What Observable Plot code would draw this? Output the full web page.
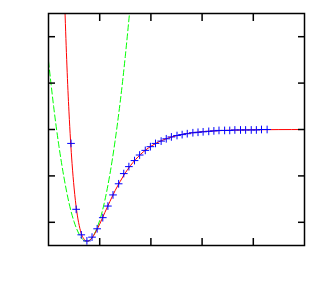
<!DOCTYPE html>
<html>
<head>
<meta charset="utf-8">
<script src="https://cdn.jsdelivr.net/npm/d3@7"></script>
<script src="https://cdn.jsdelivr.net/npm/@observablehq/plot@0.6"></script>
<style>
  html, body { margin: 0; padding: 0; background: #fff; }
</style>
</head>
<body>
<div id="chart"></div>
<script>
// Tick positions (no labels shown in the reference)
const xTicks = [1, 2, 3, 4];
const yTicks = [-2, -1, 0, 1, 2];

// Red solid curve (potential)
const redX = [0.30, 0.32, 0.34, 0.36, 0.38, 0.40, 0.43, 0.46, 0.50, 0.55, 0.60, 0.65, 0.70, 0.756, 0.80, 0.85, 0.90, 1.0, 1.1, 1.2, 1.3, 1.4, 1.5, 1.6, 1.8, 2.0, 2.2, 2.4, 2.6, 2.8, 3.0, 3.3, 3.6, 4.0, 4.5, 5.0];
const redY = [3.36, 2.62, 1.96, 1.37, 0.84, 0.38, -0.23, -0.73, -1.26, -1.75, -2.07, -2.27, -2.37, -2.41, -2.39, -2.34, -2.25, -2.04, -1.79, -1.55, -1.32, -1.12, -0.935, -0.78, -0.534, -0.362, -0.243, -0.163, -0.109, -0.072, -0.048, -0.026, -0.014, -0.006, -0.002, -0.001];

// Green dashed curve (harmonic approximation)
const greenX = [0, 0.1, 0.2, 0.3, 0.4, 0.5, 0.6, 0.7, 0.8, 0.9, 1.0, 1.1, 1.2, 1.3, 1.4, 1.5, 1.6];
const greenY = [1.475, 0.50, -0.33, -1.02, -1.58, -1.99, -2.26, -2.40, -2.39, -2.24, -1.96, -1.53, -0.96, -0.25, 0.59, 1.58, 2.71];

// Blue "+" data points
const ptsX = [0.44, 0.54, 0.64, 0.75, 0.85, 0.95, 1.06, 1.16, 1.26, 1.37, 1.47, 1.57, 1.68, 1.78, 1.89, 1.99, 2.09, 2.20, 2.30, 2.40, 2.51, 2.61, 2.71, 2.82, 2.92, 3.02, 3.13, 3.23, 3.33, 3.44, 3.54, 3.64, 3.75, 3.85, 3.96, 4.06, 4.16, 4.27];
const ptsY = [-0.30, -1.72, -2.27, -2.40, -2.32, -2.14, -1.90, -1.65, -1.41, -1.17, -0.95, -0.80, -0.67, -0.55, -0.45, -0.37, -0.30, -0.25, -0.20, -0.16, -0.13, -0.11, -0.09, -0.07, -0.06, -0.05, -0.04, -0.03, -0.02, -0.02, -0.02, -0.01, -0.01, -0.01, -0.01, -0.01, 0.00, 0.00];

const red = redX.map((x, i) => ({x, y: redY[i]}));
const green = greenX.map((x, i) => ({x, y: greenY[i]}));
const pts = ptsX.map((x, i) => ({x, y: ptsY[i]}));

const axisStyle = {stroke: "black", fill: "none", label: null, tickSize: -7, strokeWidth: 1.5};

const chart = Plot.plot({
  width: 324,
  height: 288,
  marginLeft: 48,
  marginRight: 20,
  marginTop: 13,
  marginBottom: 43,
  x: {domain: [0, 5]},
  y: {domain: [-2.5, 2.5]},
  style: {background: "white"},
  marks: [
    Plot.line(green, {x: "x", y: "y", stroke: "#00ff00", strokeWidth: 1, strokeDasharray: "6,3", curve: "natural", clip: true}),
    Plot.line(red, {x: "x", y: "y", stroke: "#ff0000", strokeWidth: 1, curve: "monotone-x", clip: true}),
    Plot.dot(pts, {x: "x", y: "y", symbol: "plus", r: 2.6, stroke: "#0000ff", strokeWidth: 1}),
    Plot.axisX({...axisStyle, anchor: "bottom", ticks: xTicks}),
    Plot.axisX({...axisStyle, anchor: "top", ticks: xTicks}),
    Plot.axisY({...axisStyle, anchor: "left", ticks: yTicks}),
    Plot.axisY({...axisStyle, anchor: "right", ticks: yTicks}),
    Plot.frame({stroke: "black", strokeWidth: 1.5})
  ]
});
document.getElementById("chart").appendChild(chart);
</script>
</body>
</html>
